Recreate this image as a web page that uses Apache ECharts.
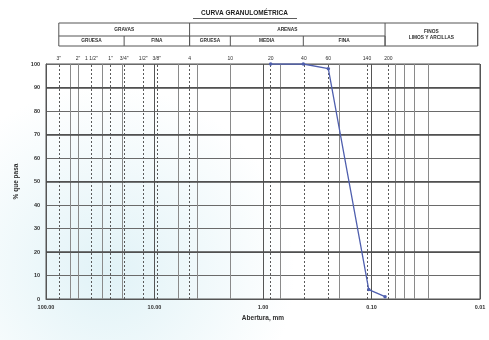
<!DOCTYPE html>
<html>
<head>
<meta charset="utf-8">
<script src="https://cdn.jsdelivr.net/npm/echarts@6/dist/echarts.min.js"></script>
<style>
  html, body { margin: 0; padding: 0; background: #ffffff; }
  #chart { width: 489px; height: 340px; }
</style>
</head>
<body>
<div id="chart"></div>
<script>
// Grain size curve (sieve analysis)
const sieveNames = ['3"', '2"', '1 1/2"', '1"', '3/4"', '1/2"', '3/8"', '4', '10', '20', '40', '60', '140', '200'];
const sieveSizes = [76.2, 50.8, 38.1, 25.4, 19.05, 12.7, 9.525, 4.75, 2.0, 0.85, 0.425, 0.25, 0.106, 0.075];

// Passing percentage measured on each sieve (mm)
const testSizes = [0.85, 0.425, 0.25, 0.106, 0.075];
const testPassing = [100, 100, 98, 4, 1];

// Extra solid reference lines printed on the form (mm)
const minorLines = [60, 50, 30, 20, 6, 4, 2, 0.7, 0.2, 0.06, 0.05, 0.04, 0.03];
// Heavier horizontal rules (% passing)
const heavyRows = [90, 70, 50, 20];

// Classification header: boundaries in mm and labels
const classTop = [
  { name: 'GRAVAS', from: 76.2, to: 4.75 },
  { name: 'ARENAS', from: 4.75, to: 0.075 },
  { name: 'FINOS\nLIMOS Y ARCILLAS', from: 0.075, to: 0.0105, both: true }
];
const classSub = [
  { name: 'GRUESA', from: 76.2, to: 19.05 },
  { name: 'FINA', from: 19.05, to: 4.75 },
  { name: 'GRUESA', from: 4.75, to: 2.0 },
  { name: 'MEDIA', from: 2.0, to: 0.425 },
  { name: 'FINA', from: 0.425, to: 0.075 }
];

const FONT = 'Liberation Sans, Arial, sans-serif';
const ink = '#2e2e2e';

const chart = echarts.init(document.getElementById('chart'), null, { renderer: 'canvas' });

const option = {
  animation: false,
  backgroundColor: '#ffffff',
  grid: { left: 46, right: 9, top: 64, bottom: 41, show: true, borderColor: '#555', borderWidth: 1, backgroundColor: 'transparent' },
  xAxis: {
    type: 'log', logBase: 10, min: 0.01, max: 100, inverse: true,
    name: 'Abertura, mm', nameLocation: 'middle', nameGap: 16,
    nameTextStyle: { fontFamily: FONT, fontSize: 6.5, fontWeight: 'bold', color: ink },
    axisLine: { show: true, lineStyle: { color: '#555', width: 1 } },
    axisTick: { show: false },
    axisLabel: { fontFamily: FONT, fontSize: 5.5, fontWeight: 'bold', color: ink, margin: 5, formatter: v => Number(v).toFixed(2) },
    splitLine: { show: true, lineStyle: { color: '#555', width: 1 } }
  },
  yAxis: {
    type: 'value', min: 0, max: 100, interval: 10,
    name: '% que pasa', nameLocation: 'middle', nameGap: 19, nameRotate: 90,
    nameTextStyle: { fontFamily: FONT, fontSize: 6.5, fontWeight: 'bold', color: ink },
    axisLine: { show: true, lineStyle: { color: '#555' } },
    axisTick: { show: false },
    axisLabel: { fontFamily: FONT, fontSize: 5.5, fontWeight: 'bold', color: ink, margin: 6 },
    splitLine: { show: true, lineStyle: { color: '#6a6a6a', width: 1 } }
  },
  series: [
    {
      // sieve openings: dashed verticals with sieve names on top
      type: 'line', data: [], silent: true,
      markLine: {
        symbol: 'none', silent: true,
        lineStyle: { type: [2, 2], color: '#5a5a5a', width: 1 },
        label: { show: true, position: 'end', distance: 3, fontFamily: FONT, fontSize: 5, color: ink, formatter: p => p.name },
        data: sieveSizes.map((s, i) => ({ xAxis: s, name: sieveNames[i] }))
      }
    },
    {
      type: 'line', data: [], silent: true,
      markLine: {
        symbol: 'none', silent: true,
        lineStyle: { type: 'solid', color: '#8a8a8a', width: 1 },
        label: { show: false },
        data: minorLines.map(v => ({ xAxis: v }))
      }
    },
    {
      type: 'line', data: [], silent: true,
      markLine: {
        symbol: 'none', silent: true,
        lineStyle: { type: 'solid', color: '#4a4a4a', width: 1.6 },
        label: { show: false },
        data: heavyRows.map(v => ({ yAxis: v }))
      }
    },
    {
      name: 'Curva', type: 'line',
      data: testSizes.map((s, i) => [s, testPassing[i]]),
      lineStyle: { color: '#4f5fae', width: 1.3 },
      itemStyle: { color: '#4f5fae' },
      symbol: 'circle', symbolSize: 3.5,
      z: 10
    }
  ]
};
chart.setOption(option);

// Header table drawn above the plot, aligned with the classification boundaries
function px(mm) { return chart.convertToPixel({ xAxisIndex: 0 }, mm); }
const rowTop = 23, rowMid = 36, rowBot = 46;
const g = [];
// faint bluish tint of the paper behind the lower left of the sheet
g.push({
  type: 'rect', z: -10, silent: true,
  shape: { x: 0, y: 0, width: 489, height: 340 },
  style: {
    fill: new echarts.graphic.RadialGradient(0.22, 0.8, 0.55, [
      { offset: 0, color: 'rgba(200,232,240,0.55)' },
      { offset: 1, color: 'rgba(200,232,240,0)' }
    ])
  }
});
g.push({
  type: 'text', left: 'center', top: 10,
  style: { text: 'CURVA GRANULOMÉTRICA', font: 'bold 6.5px ' + FONT, fill: '#222' }
});
// underline of the title
g.push({ type: 'line', shape: { x1: 193, y1: 18.5, x2: 297, y2: 18.5 }, style: { stroke: '#333', lineWidth: 0.8 } });
const xL = px(76.2), xR = px(0.0105);
g.push({ type: 'rect', shape: { x: xL, y: rowTop, width: xR - xL, height: rowBot - rowTop }, style: { fill: 'none', stroke: '#555', lineWidth: 1 } });
classTop.forEach(c => {
  const a = px(c.from), b = px(c.to);
  g.push({ type: 'line', shape: { x1: b, y1: rowTop, x2: b, y2: rowBot }, style: { stroke: '#555', lineWidth: 1 } });
  if (!c.both) {
    g.push({ type: 'line', shape: { x1: a, y1: rowMid, x2: b, y2: rowMid }, style: { stroke: '#555', lineWidth: 1 } });
  }
  g.push({
    type: 'text', x: (a + b) / 2, y: c.both ? (rowTop + rowBot) / 2 : (rowTop + rowMid) / 2,
    style: { text: c.name, font: 'bold 4.8px ' + FONT, fill: ink, align: 'center', verticalAlign: 'middle', lineHeight: 6 }
  });
});
classSub.forEach(c => {
  const a = px(c.from), b = px(c.to);
  g.push({ type: 'line', shape: { x1: b, y1: rowMid, x2: b, y2: rowBot }, style: { stroke: '#555', lineWidth: 1 } });
  g.push({
    type: 'text', x: (a + b) / 2, y: (rowMid + rowBot) / 2,
    style: { text: c.name, font: 'bold 4.8px ' + FONT, fill: ink, align: 'center', verticalAlign: 'middle' }
  });
});
chart.setOption({ graphic: g });
</script>
</body>
</html>
